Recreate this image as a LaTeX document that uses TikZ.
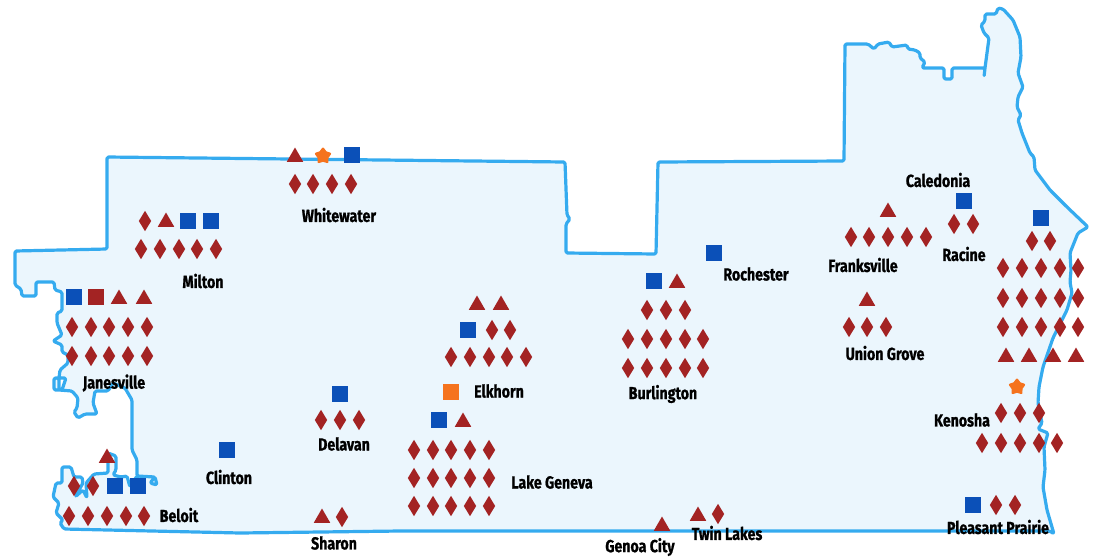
\documentclass[tikz,border=0pt]{standalone}
\usepackage{fontspec}
\setmainfont[FakeStretch=0.81,BoldFont={Fira Sans Bold},BoldFeatures={FakeBold=0.9}]{Fira Sans}
\usetikzlibrary{shapes.geometric}
\definecolor{landfill}{HTML}{EBF6FD}
\definecolor{landline}{HTML}{35ABEF}
\definecolor{mred}{HTML}{A32323}
\definecolor{mblue}{HTML}{0B50B8}
\definecolor{morange}{HTML}{F5731E}
\tikzset{
 land/.style={draw=landline,fill=landfill,line width=3.2pt,line join=round,line cap=round,rounded corners=1.5pt},
 dia/.style={diamond,fill=mred,inner sep=0pt,minimum width=12.5pt,minimum height=20.5pt},
 sq/.style={rectangle,fill=mblue,inner sep=0pt,minimum size=16pt},
 sqred/.style={sq,fill=mred},
 sqor/.style={sq,fill=morange},
 tri/.style={regular polygon,regular polygon sides=3,fill=mred,inner sep=0pt,minimum size=19pt},
 sta/.style={star,star points=5,star point ratio=1.6,fill=morange,draw=morange,line width=2.4pt,line join=round,inner sep=0pt,minimum size=14.5pt},
 lab/.style={font=\bfseries\fontsize{17.5}{19}\selectfont,text=black,inner sep=0pt}
}
\newcommand{\drow}[3]{\foreach \xx [count=\ii] in {#2} {\node[dia] (#1\ii) at (\xx,#3) {};}}
\newcommand{\trow}[3]{\foreach \xx [count=\ii] in {#2} {\node[tri] (#1\ii) at (\xx,#3) {};}}
\newcommand{\srow}[3]{\foreach \xx [count=\ii] in {#2} {\node[sq] (#1\ii) at (\xx,#3) {};}}
\begin{document}
\begin{tikzpicture}[x=1pt,y=-1pt]
\useasboundingbox (0,0) rectangle (1093,558);
\draw[land] (107,157) -- (107,249) -- (15,251) -- (15,285) -- (21,289) -- (22,296) -- (36,296) -- (36,282) -- (54,282) -- (55,290) -- (62,292) -- (62,311) -- (57,313) -- (57,323) -- (62,335) -- (53,341) -- (62,345) -- (62,352) -- (68,355) -- (68,363) -- (60,370) -- (59,378) -- (66,378) -- (62,390) -- (54,390) -- (54,378) -- (59,378) -- (59,390) -- (72,391) -- (78,398) -- (77,408) -- (74,412) -- (78,418) -- (85,414) -- (97,414) -- (93,403) -- (95,391) -- (108,391) -- (113,383) -- (125,388) -- (132,400) -- (132,450) -- (137,460) -- (137,476) -- (155,477) -- (157,485) -- (150,483) -- (155,477) -- (137,476) -- (130,487) -- (127,476) -- (121,477) -- (113,475) -- (116,470) -- (116,456) -- (108,453) -- (108,473) -- (94,474) -- (86,483) -- (87,498) -- (83,490) -- (75,497) -- (83,483) -- (82,477) -- (74,477) -- (71,467) -- (62,467) -- (62,483) -- (56,483) -- (53,497) -- (59,503) -- (56,513) -- (63,520) -- (60,523) -- (64,529) -- (240,533) -- (400,531) -- (660,531) -- (1050,531) -- (1054,534) -- (1047,510) -- (1043,487) -- (1045,470) -- (1044,447) -- (1048,433) -- (1038,429) -- (1042,423) -- (1038,403) -- (1039,387) -- (1043,367) -- (1053,338) -- (1067,310) -- (1072,293) -- (1070,282) -- (1071,270) -- (1070,253) -- (1078,233) -- (1088,227) -- (1067,207) -- (1050,190) -- (1035,170) -- (1034,157) -- (1030,153) -- (1022,133) -- (1018,120) -- (1021,115) -- (1017,107) -- (1018,97) -- (1023,87) -- (1018,73) -- (1021,57) -- (1020,37) -- (1013,20) -- (1003,9) -- (998,8) -- (996,14) -- (985,14) -- (985,21) -- (981,25) -- (984,33) -- (989,38) -- (985,68) -- (984,77) -- (985,68) -- (952,68) -- (952,79) -- (944,79) -- (944,68) -- (922,68) -- (925,62) -- (920,58) -- (920,53) -- (915,50) -- (908,49) -- (907,45) -- (892,47) -- (889,42) -- (878,44) -- (874,49) -- (868,44) -- (845,44) -- (844,161) -- (658,162) -- (656,254) -- (566,253) -- (566,224) -- (570,219) -- (567,215) -- (565,162) -- cycle;
% Whitewater
\node[tri] (wt) at (295,157) {}; \node[sta] (ws) at (323,156) {}; \node[sq] (wq) at (352,155) {};
\drow{wd}{295,313,332,351}{184}
\node[lab] (whitewater) at (339,215) {Whitewater};
% Milton
\node[dia] (m0) at (145,221) {}; \node[tri] (mt) at (166,222) {}; \srow{mq}{188,211}{221}
\drow{md}{141,160,179,197,216}{249}
\node[lab] (milton) at (203,281) {Milton};
% Janesville
\node[sq] (jq) at (74,297) {}; \node[sqred] (jr) at (96,297) {}; \trow{jt}{119,144}{299}
\drow{ja}{72,91,109,128,147}{327} \drow{jb}{72,91,109,128,147}{356}
\node[lab] (janesville) at (114,383) {Janesville};
% Beloit
\node[tri] (bt) at (107,458) {}; \drow{ba}{74,93}{486} \srow{bq}{115,138}{486}
\drow{bb}{69,88,107,126,144}{516}
\node[lab] (beloit) at (179,515) {Beloit};
% Clinton
\node[sq] (cq) at (227,450) {}; \node[lab] (clinton) at (229,477) {Clinton};
% Delavan
\node[sq] (dq) at (340,394) {}; \drow{dd}{321,340,359}{420}
\node[lab] (delavan) at (344,444) {Delavan};
% Sharon
\node[tri] (st) at (322,518) {}; \node[dia] (sd) at (342,517) {};
\node[lab] (sharon) at (334,543) {Sharon};
% Elkhorn
\trow{et}{477,501}{305} \node[sq] (eq) at (468,330) {}; \drow{ea}{492,510}{330}
\drow{eb}{451,470,489,507,526}{357}
\node[sqor] (eo) at (451,392) {}; \node[lab] (elkhorn) at (499,391) {Elkhorn};
% Lake Geneva
\node[sq] (lq) at (439,420) {}; \node[tri] (lt) at (463,422) {};
\drow{la}{414,433,451,470,489}{450} \drow{lb}{414,433,451,470,489}{478} \drow{lc}{414,433,451,470,489}{506}
\node[lab] (lakegeneva) at (552,482) {Lake Geneva};
% Burlington
\node[sq] (uq) at (654,281) {}; \node[tri] (ut) at (677,283) {};
\drow{ua}{647,666,685}{310} \drow{ub}{628,647,666,685,703}{339} \drow{uc}{628,647,666,685,703}{368}
\node[lab] (burlington) at (663,394) {Burlington};
% Rochester
\node[sq] (rq) at (714,253) {}; \node[lab] (rochester) at (756,274) {Rochester};
% Franksville
\node[tri] (ft) at (888,212) {}; \drow{fd}{851,869,888,907,926}{237}
\node[lab] (franksville) at (863,265) {Franksville};
% Union Grove
\node[tri] (gt) at (867,301) {}; \drow{gd}{849,867,886}{327}
\node[lab] (uniongrove) at (885,353) {Union Grove};
% Caledonia, Racine
\node[lab] (caledonia) at (938,180) {Caledonia}; \node[sq] (aq) at (964,201) {};
\drow{ad}{954,973}{224} \node[lab] (racine) at (964,254) {Racine};
% Kenosha
\node[sq] (kq) at (1041,218) {}; \drow{ka}{1032,1050}{241}
\drow{kb}{1003,1022,1041,1060,1078}{268} \drow{kc}{1003,1022,1041,1060,1078}{298} \drow{kd}{1003,1022,1041,1060,1078}{327}
\trow{kt}{1006,1029,1053,1076}{357}
\node[sta] (ks) at (1017,387) {};
\drow{ke}{1001,1020,1039}{413} \drow{kf}{982,1001,1020,1039,1057}{443}
\node[lab] (kenosha) at (962,420) {Kenosha};
% Pleasant Prairie
\node[sq] (pq) at (973,505) {}; \drow{pd}{996,1015}{505}
\node[lab] (pleasant) at (998,527) {Pleasant Prairie};
% Genoa City, Twin Lakes
\node[tri] (nt) at (662,526) {}; \node[lab] (genoa) at (640,547) {Genoa City};
\node[tri] (tt) at (698,516) {}; \node[dia] (td) at (718,514) {};
\node[lab] (twinlakes) at (727,533) {Twin Lakes};
\end{tikzpicture}
\end{document}
